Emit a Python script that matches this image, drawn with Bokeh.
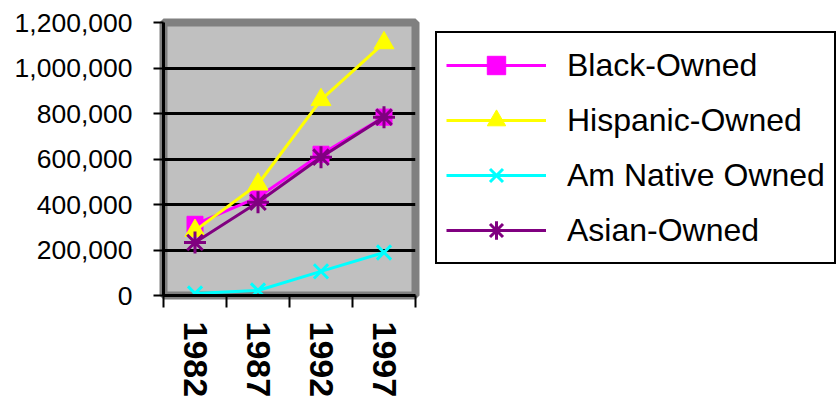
from bokeh.plotting import figure
from bokeh.models import FixedTicker, NumeralTickFormatter, Legend, LegendItem, Range1d
from bokeh.embed import file_html
from bokeh.resources import INLINE

# ---- data ----
years = ["1982", "1987", "1992", "1997"]
black_owned = [313000, 432000, 621000, 784000]
hispanic_owned = [285000, 489000, 860000, 1110000]
am_native_owned = [9000, 22000, 106000, 189000]
asian_owned = [233000, 410000, 608000, 784000]
series_names = ["Black-Owned", "Hispanic-Owned", "Am Native Owned", "Asian-Owned"]
y_ticks = [0, 200000, 400000, 600000, 800000, 1000000, 1200000]

x_pos = list(range(1, len(years) + 1))

p = figure(
    frame_width=252, frame_height=273,
    x_range=Range1d(0.5, len(years) + 0.5),
    y_range=Range1d(y_ticks[0], y_ticks[-1]),
    output_backend="svg", toolbar_location=None,
    min_border_left=163, min_border_top=22, min_border_bottom=103, min_border_right=420,
    background_fill_color="#C0C0C0",
    border_fill_color="white",
    outline_line_color="#808080", outline_line_width=8,
)

FONT = "Liberation Sans"

# y axis
yax = p.yaxis[0]
yax.ticker = FixedTicker(ticks=y_ticks)
yax.formatter = NumeralTickFormatter(format="0,0")
yax.major_tick_out = 10
yax.major_tick_in = 0
yax.minor_tick_out = 0
yax.minor_tick_in = 0
yax.major_tick_line_width = 2
yax.axis_line_width = 3
yax.axis_line_color = "black"
yax.major_label_text_font = FONT
yax.major_label_text_font_size = "26.5px"
yax.major_label_text_color = "black"
yax.major_label_standoff = 21

# x axis
xax = p.xaxis[0]
xax.ticker = FixedTicker(ticks=x_pos, minor_ticks=[i + 0.5 for i in range(len(years) + 1)])
xax.major_label_overrides = {i: y for i, y in zip(x_pos, years)}
xax.major_tick_out = 0
xax.major_tick_in = 0
xax.minor_tick_out = 12
xax.minor_tick_in = 0
xax.minor_tick_line_width = 2
xax.minor_tick_line_color = "black"
xax.axis_line_width = 3
xax.axis_line_color = "black"
xax.major_label_orientation = "vertical"
xax.major_label_text_font = FONT
xax.major_label_text_font_size = "34px"
xax.major_label_text_font_style = "bold"
xax.major_label_text_color = "black"
xax.major_label_standoff = 14

# grid
p.xgrid.grid_line_color = None
p.ygrid.ticker = FixedTicker(ticks=y_ticks[1:-1])
p.ygrid.grid_line_color = "black"
p.ygrid.grid_line_width = 3

styles = [
    (black_owned, "#FF00FF", "square", 16, 1),
    (hispanic_owned, "#FFFF00", "triangle", 20, 1),
    (am_native_owned, "#00FFFF", "x", 20, 3),
    (asian_owned, "#800080", "asterisk", 22, 3),
]

items = []
for name, (vals, color, marker, size, lw) in zip(series_names, styles):
    ln = p.line(x_pos, vals, line_color=color, line_width=3)
    sc = p.scatter(x_pos, vals, marker=marker, size=size, fill_color=color,
                   line_color=color, line_width=lw)
    items.append(LegendItem(label=name, renderers=[ln, sc]))

legend = Legend(
    items=items, location=(20, 31), margin=0, padding=9, spacing=9,
    glyph_width=100, glyph_height=46, label_height=46, label_width=200,
    label_standoff=21, label_text_font=FONT, label_text_font_size="32px",
    label_text_color="black",
    border_line_color="black", border_line_width=2, border_line_alpha=1.0,
    background_fill_color="white", background_fill_alpha=1.0,
)
p.add_layout(legend, "right")

open("out.html", "w").write(file_html(p, INLINE))
